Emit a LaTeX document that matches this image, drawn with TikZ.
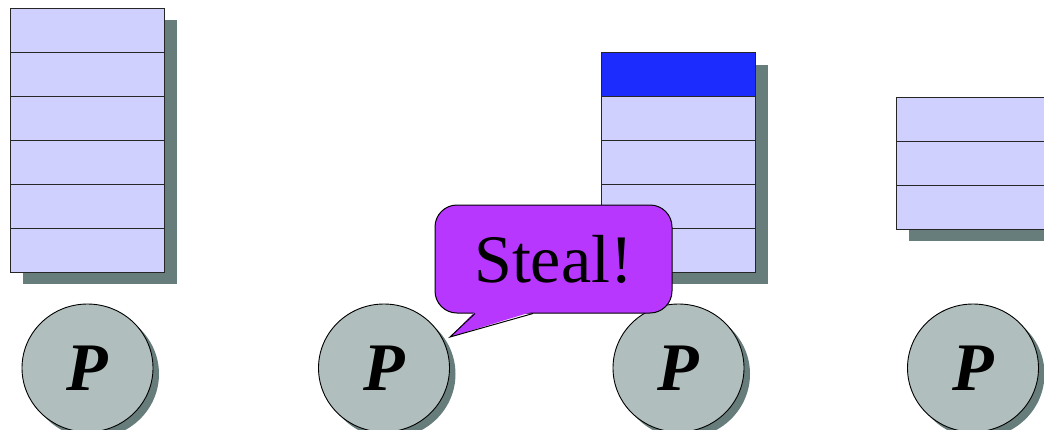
\documentclass[tikz,border=0pt]{standalone}
\usepackage{fontspec}
\setmainfont{Liberation Serif}
\usetikzlibrary{shapes.geometric,shadows}
\definecolor{lav}{HTML}{D0D0FF}
\definecolor{shadowc}{HTML}{677D7B}
\definecolor{procfill}{HTML}{B0BFBD}
\definecolor{topblue}{HTML}{1C2CFF}
\definecolor{callpurple}{HTML}{B837FF}
\tikzset{
  cell/.style={draw=black!85, line width=1pt, fill=lav, minimum width=154pt, minimum height=44pt, inner sep=0pt,
    drop shadow={shadow xshift=12pt, shadow yshift=-12pt, fill=shadowc, opacity=1}},
  bluecell/.style={cell, fill=topblue},
  proc/.style={ellipse, draw=black, line width=0.9pt, fill=procfill, minimum width=131pt, minimum height=128pt, inner sep=0pt,
    font=\fontsize{68}{70}\selectfont\bfseries\itshape,
    drop shadow={shadow xshift=6pt, shadow yshift=-6pt, fill=shadowc, opacity=1}},
  callout/.style={draw=black, line width=1pt, fill=callpurple, rounded corners=22pt, minimum width=237pt, minimum height=108pt,
    inner sep=0pt, font=\fontsize{68}{70}\selectfont},
}
\begin{document}
\begin{tikzpicture}[x=1pt,y=-1pt]
\useasboundingbox (0,0) rectangle (1044,429);
\clip (0,0) rectangle (1044,429);
% stack 1
\foreach \i [evaluate=\i as \yy using 8+44*\i+22] in {0,...,5}
  \node[cell] (a\i) at (87.5,\yy) {};
% stack 3
\node[bluecell] (c0) at (678.5,74.5) {};
\foreach \i [evaluate=\i as \yy using 52+44*\i+22] in {1,...,4}
  \node[cell] (c\i) at (678.5,\yy) {};
% stack 4
\foreach \i [evaluate=\i as \yy using 97+44*\i+22] in {0,1,2}
  \node[cell] (d\i) at (973.5,\yy) {};
% processors
\node[proc] (p1) at (87.5,368) {P};
\node[proc] (p2) at (384,368) {P};
\node[proc] (p3) at (678.5,368) {P};
\node[proc] (p4) at (973,368) {P};
% callout
\node[callout] (steal) at (553.5,259) {Steal!};
\coordinate (tip) at (450,337);
\fill[callpurple] ([xshift=-78.5pt,yshift=2pt]steal.south) -- (tip) -- ([xshift=-20.5pt,yshift=2pt]steal.south) -- cycle;
\draw[line width=1pt, line join=miter] ([xshift=-78.5pt]steal.south) -- (tip) -- ([xshift=-20.5pt]steal.south);
\end{tikzpicture}
\end{document}
